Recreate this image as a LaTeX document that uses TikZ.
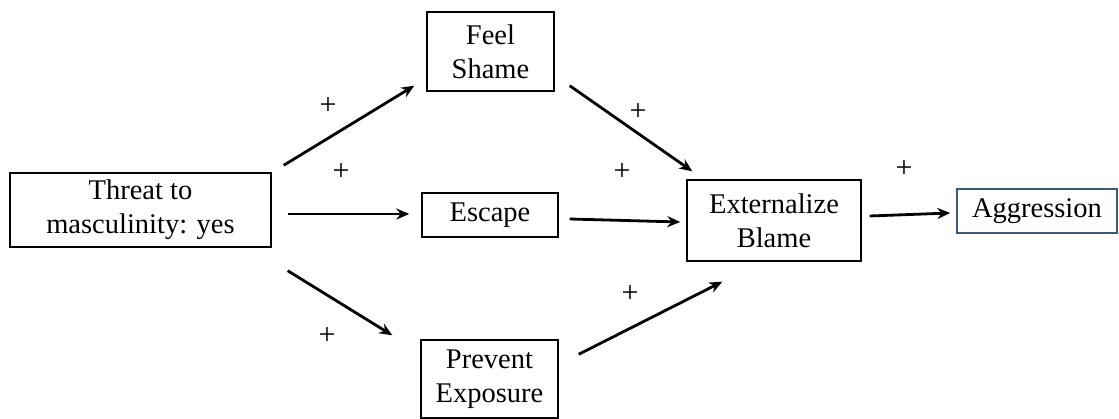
\documentclass[tikz,border=0pt]{standalone}
\usepackage{fontspec}
\setmainfont{Liberation Serif}
\usetikzlibrary{arrows.meta}
\definecolor{aggborder}{HTML}{3E5878}
\begin{document}
\begin{tikzpicture}[x=1pt,y=-1pt,
  box/.style={draw=black,line width=1.4pt,inner sep=0pt,align=center,
    font=\fontsize{28.5}{34}\selectfont},
  arr/.style={line width=2.8pt,-{Stealth[length=13pt,width=11pt]}},
  plus/.style={font=\fontsize{30}{30}\selectfont,inner sep=0pt}]
\useasboundingbox (0,0) rectangle (1119,419);
\node[box,minimum width=261pt,minimum height=74pt] (threat) at (140.5,210) {Threat to\\masculinity: yes};
\node[box,minimum width=127pt,minimum height=79pt] (shame) at (490.5,51.5) {Feel\\Shame};
\node[box,minimum width=136pt,minimum height=44pt] (escape) at (490,215) {Escape};
\node[box,minimum width=137pt,minimum height=78pt] (prevent) at (489.5,379) {Prevent\\Exposure};
\node[box,minimum width=174pt,minimum height=81pt] (ext) at (774,220.5) {Externalize\\Blame};
\node[box,draw=aggborder,minimum width=160pt,minimum height=44pt] (agg) at (1037,211) {Aggression};

\draw[arr] ([shift={(12,-7)}]threat.north east) -- ([shift={(-12,-6)}]shame.south west);
\draw[arr] ([shift={(16,4)}]threat.east) -- ([shift={(-12,-1)}]escape.west);
\draw[arr] ([shift={(16,23)}]threat.south east) -- ([shift={(-28,-4)}]prevent.north west);
\draw[arr] ([shift={(15,-6)}]shame.south east) -- ([shift={(6,-8)}]ext.north west);
\draw[arr] ([shift={(11,4)}]escape.east) -- ([shift={(-6,1.5)}]ext.west);
\draw[arr] ([shift={(20,15)}]prevent.north east) -- ([shift={(36,20)}]ext.south west);
\draw[arr] ([shift={(8,-4.5)}]ext.east) -- ([shift={(-6,2)}]agg.west);

\node[plus] (p1) at (328,106) {+};
\node[plus] (p2) at (341,172) {+};
\node[plus] (p3) at (327,336) {+};
\node[plus] (p4) at (638,112) {+};
\node[plus] (p5) at (622,172) {+};
\node[plus] (p6) at (630,294) {+};
\node[plus] (p7) at (904,169) {+};
\end{tikzpicture}
\end{document}
